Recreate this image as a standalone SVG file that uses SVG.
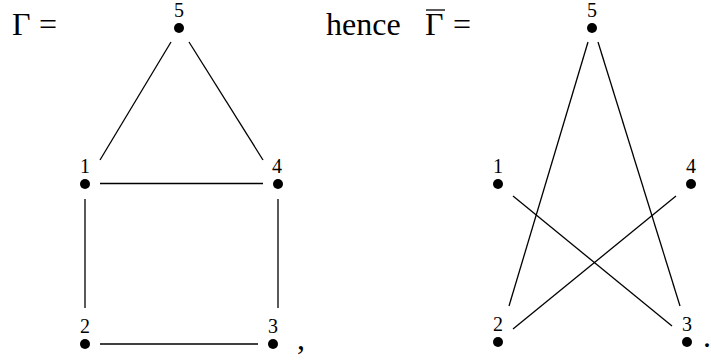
<svg xmlns="http://www.w3.org/2000/svg" width="711" height="363" viewBox="0 0 711 363">
<style>
.lbl{font-family:"Liberation Serif","DejaVu Serif",serif;font-size:20px;fill:#000;text-anchor:middle}
.big{font-family:"Liberation Serif","DejaVu Serif",serif;font-size:32px;fill:#000}
.dot{fill:#000}
.edge{stroke:#000;stroke-width:1.3;fill:none}
</style>
<rect width="711" height="363" fill="#fff"/>
<text class="big" x="12" y="35" font-size="34">Γ</text>
<text class="big" x="39" y="35">=</text>
<text class="big" x="326" y="35" font-size="30">hence</text>
<text class="big" x="425" y="35" font-size="34">Γ</text>
<text class="big" x="453" y="35">=</text>
<line x1="426" y1="10" x2="445" y2="10" stroke="#000" stroke-width="1.3"/>
<text class="big" x="297" y="349" font-size="26">,</text>
<text class="big" x="703" y="347" font-size="26">.</text>
<g id="connectors">
<line class="edge" x1="171" y1="42" x2="100" y2="160"/>
<line class="edge" x1="189" y1="42" x2="263" y2="160"/>
<line class="edge" x1="100" y1="183.5" x2="263" y2="183.5"/>
<line class="edge" x1="85" y1="199" x2="85" y2="308"/>
<line class="edge" x1="278" y1="199" x2="278" y2="308"/>
<line class="edge" x1="100" y1="344" x2="258" y2="344"/>
<line class="edge" x1="588" y1="42" x2="509" y2="306"/>
<line class="edge" x1="598" y1="42" x2="680" y2="306"/>
<line class="edge" x1="513" y1="196" x2="672" y2="326"/>
<line class="edge" x1="676" y1="196" x2="513" y2="329"/>
</g>
<g id="L5"><circle class="dot" cx="179" cy="28" r="5"/><text class="lbl" x="179" y="17">5</text></g>
<g id="L1"><circle class="dot" cx="85" cy="184" r="5"/><text class="lbl" x="85" y="173">1</text></g>
<g id="L4"><circle class="dot" cx="278" cy="184" r="5"/><text class="lbl" x="277" y="173">4</text></g>
<g id="L2"><circle class="dot" cx="85" cy="344" r="5"/><text class="lbl" x="85" y="333">2</text></g>
<g id="L3"><circle class="dot" cx="273" cy="344" r="5"/><text class="lbl" x="273" y="333">3</text></g>
<g id="R5"><circle class="dot" cx="592" cy="28" r="5"/><text class="lbl" x="592" y="17">5</text></g>
<g id="R1"><circle class="dot" cx="498" cy="184" r="5"/><text class="lbl" x="498" y="173">1</text></g>
<g id="R4"><circle class="dot" cx="691" cy="184" r="5"/><text class="lbl" x="691" y="173">4</text></g>
<g id="R2"><circle class="dot" cx="498" cy="342" r="5"/><text class="lbl" x="498" y="331">2</text></g>
<g id="R3"><circle class="dot" cx="687" cy="342" r="5"/><text class="lbl" x="687" y="331">3</text></g>
</svg>
